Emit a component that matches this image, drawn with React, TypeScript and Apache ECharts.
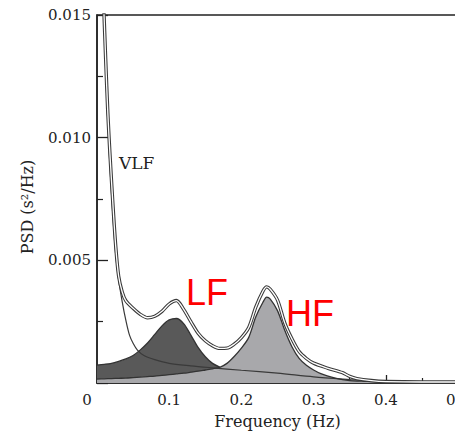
import React, { useEffect, useRef } from "react";
import * as echarts from "echarts";

// Frequency grid (Hz) shared by the LF / HF areas
const freq = [
  0, 0.01, 0.02, 0.03, 0.04, 0.05, 0.06, 0.07, 0.08, 0.09, 0.1, 0.11, 0.12, 0.13,
  0.14, 0.15, 0.16, 0.17, 0.18, 0.19, 0.2, 0.21, 0.22, 0.23, 0.235, 0.24, 0.25,
  0.26, 0.27, 0.28, 0.29, 0.3, 0.31, 0.32, 0.33, 0.34, 0.35, 0.36, 0.37, 0.38,
  0.39, 0.4, 0.41, 0.42, 0.43, 0.44, 0.45, 0.46, 0.47, 0.48, 0.49, 0.5,
];
// HF component, top of the light area (x 1e-3 s^2/Hz)
const hfValues = [
  0.16, 0.17, 0.18, 0.19, 0.2, 0.22, 0.24, 0.26, 0.28, 0.31, 0.34, 0.37, 0.4, 0.44,
  0.48, 0.53, 0.58, 0.64, 0.8, 1.08, 1.42, 1.85, 2.7, 3.3, 3.5, 3.42, 2.95,
  2.15, 1.48, 1.0, 0.72, 0.53, 0.38, 0.28, 0.2, 0.14, 0.1, 0.08, 0.07, 0.06,
  0.05, 0.0, 0, 0, 0, 0, 0, 0, 0, 0, 0, 0,
];
// LF band, top of the dark area (LF on top of HF, x 1e-3 s^2/Hz); "-" = hidden under HF
const lfTopValues: (number | string)[] = [
  0.73, 0.76, 0.8, 0.88, 0.98, 1.12, 1.35, 1.63, 1.98, 2.33, 2.57, 2.63, 2.42, 1.95,
  1.45, 1.07, 0.8, 0.65, "-", "-", "-", "-", "-", "-", "-", "-", "-",
  "-", "-", "-", "-", "-", "-", "-", "-", "-", "-", "-", "-", "-",
  "-", "-", "-", "-", "-", "-", "-", "-", "-", "-", "-", "-",
];
// Total PSD curve
const totalFreq = [
  0.009, 0.012, 0.015, 0.018, 0.022, 0.026, 0.03, 0.035, 0.04, 0.05, 0.06, 0.07,
  0.08, 0.09, 0.1, 0.11, 0.12, 0.13, 0.14, 0.15, 0.16, 0.17, 0.18, 0.19, 0.2,
  0.21, 0.22, 0.23, 0.235, 0.24, 0.25, 0.26, 0.27, 0.28, 0.29, 0.3, 0.32, 0.34,
  0.35, 0.36, 0.38, 0.4, 0.45, 0.5,
];
const totalValues = [
  15.6, 13.2, 11.0, 9.3, 7.3, 5.55, 4.35, 3.7, 3.35, 3.05, 2.8, 2.66,
  2.72, 2.92, 3.22, 3.36, 3.0, 2.5, 2.03, 1.72, 1.52, 1.41, 1.42, 1.58, 1.85,
  2.25, 3.1, 3.75, 3.92, 3.82, 3.38, 2.45, 1.8, 1.28, 1.0, 0.81, 0.6, 0.42,
  0.27, 0.18, 0.1, 0.06, 0.04, 0.04,
];
// VLF component curve
const vlfFreq = [
  0.009, 0.012, 0.015, 0.018, 0.022, 0.026, 0.03, 0.035, 0.04, 0.045, 0.05, 0.056,
  0.065, 0.08, 0.1, 0.13, 0.16, 0.2, 0.25, 0.3, 0.35, 0.4, 0.45, 0.5,
];
const vlfValues = [
  15.5, 12.8, 10.6, 8.8, 6.8, 5.2, 4.2, 3.3, 2.55, 1.95, 1.62, 1.34,
  1.12, 0.95, 0.8, 0.7, 0.62, 0.52, 0.4, 0.25, 0.14, 0.04, 0.03, 0.03,
];
const yTicks = [0, 5, 10, 15];
const xTickLabels = ["", "0.1", "0.2", "0.3", "0.4", "0.5"];

const serif = "DejaVu Serif";

export default function App() {
  const ref = useRef<HTMLDivElement>(null);
  useEffect(() => {
    if (!ref.current) return;
    const chart = echarts.init(ref.current, undefined, { renderer: "svg" });
    const pair = (xs: number[], ys: (number | string)[]) => xs.map((x, i) => [x, ys[i]]);
    chart.setOption({
      animation: false,
      backgroundColor: "#ffffff",
      grid: {
        left: 97, width: 361, top: 15, height: 368,
        outerBoundsMode: "none", containLabel: false,
        show: true, borderColor: "#222", borderWidth: 1.5,
      },
      xAxis: {
        type: "value",
        min: 0,
        max: 0.5,
        interval: 0.1,
        name: "Frequency (Hz)",
        nameLocation: "middle",
        nameGap: 30,
        nameTextStyle: { fontFamily: serif, fontSize: 16, color: "#222" },
        axisLine: { show: true, lineStyle: { color: "#222", width: 1.5 } },
        axisTick: { show: true, inside: true, length: 8, lineStyle: { color: "#222", width: 1.3 } },
        minorTick: { show: true, splitNumber: 2, length: 5, lineStyle: { color: "#222", width: 1.2 } },
        splitLine: { show: false },
        axisLabel: {
          fontFamily: serif,
          fontSize: 15,
          color: "#222",
          margin: 9,
          formatter: (v: number) => xTickLabels[Math.round(v * 10)] ?? "",
        },
      },
      yAxis: {
        type: "value",
        min: 0,
        max: 15,
        interval: 5,
        axisLine: { show: true, lineStyle: { color: "#222", width: 1.5 } },
        axisTick: { show: true, inside: true, length: 11, lineStyle: { color: "#222", width: 1.3 } },
        minorTick: { show: true, splitNumber: 2, length: 6, lineStyle: { color: "#222", width: 1.2 } },
        splitLine: { show: false },
        axisLabel: {
          fontFamily: serif,
          fontSize: 15,
          color: "#222",
          margin: 6,
          formatter: (v: number) => (v === 0 || !yTicks.includes(v) ? "" : (v / 1000).toFixed(3)),
        },
      },
      series: [
        {
          name: "VLF",
          type: "line",
          data: pair(vlfFreq, vlfValues),
          smooth: 0.3,
          symbol: "none",
          lineStyle: { color: "#3a3a3a", width: 1.2 },
        },
        {
          name: "LF",
          type: "line",
          data: pair(freq, lfTopValues),
          smooth: 0.3,
          symbol: "none",
          lineStyle: { color: "#333", width: 1.3 },
          areaStyle: { color: "#595959", opacity: 1 },
        },
        {
          name: "HF",
          type: "line",
          data: pair(freq, hfValues),
          smooth: 0.3,
          symbol: "none",
          lineStyle: { color: "#333", width: 1.3 },
          areaStyle: { color: "#a8a8ab", opacity: 1 },
        },
        {
          name: "Total",
          type: "line",
          data: pair(totalFreq, totalValues),
          smooth: 0.3,
          symbol: "none",
          lineStyle: { color: "#3a3a3a", width: 3.4 },
        },
        {
          name: "TotalInner",
          type: "line",
          data: pair(totalFreq, totalValues),
          smooth: 0.3,
          symbol: "none",
          lineStyle: { color: "#ffffff", width: 1.3 },
        },
      ],
      graphic: [
        { type: "text", x: 87, y: 400, style: { text: "0", fontFamily: serif, fontSize: 15, fill: "#222", align: "center", verticalAlign: "middle" } },
        { type: "text", x: 27, y: 207, rotation: Math.PI / 2, style: { text: "PSD (s²/Hz)", fontFamily: serif, fontSize: 16, fill: "#222", align: "center", verticalAlign: "middle" } },
        { type: "text", x: 119, y: 163, style: { text: "VLF", fontFamily: serif, fontSize: 17, fill: "#222", align: "left", verticalAlign: "middle" } },
        { type: "text", x: 186, y: 292, style: { text: "LF", fontFamily: "Liberation Sans", fontSize: 36, fill: "#ff0000", align: "left", verticalAlign: "middle" } },
        { type: "text", x: 286, y: 313, style: { text: "HF", fontFamily: "Liberation Sans", fontSize: 36, fill: "#ff0000", align: "left", verticalAlign: "middle" } },
      ],
    });
    return () => chart.dispose();
  }, []);
  return <div ref={ref} style={{ position: "absolute", left: 0, top: 0, width: 455, height: 434 }} />;
}
